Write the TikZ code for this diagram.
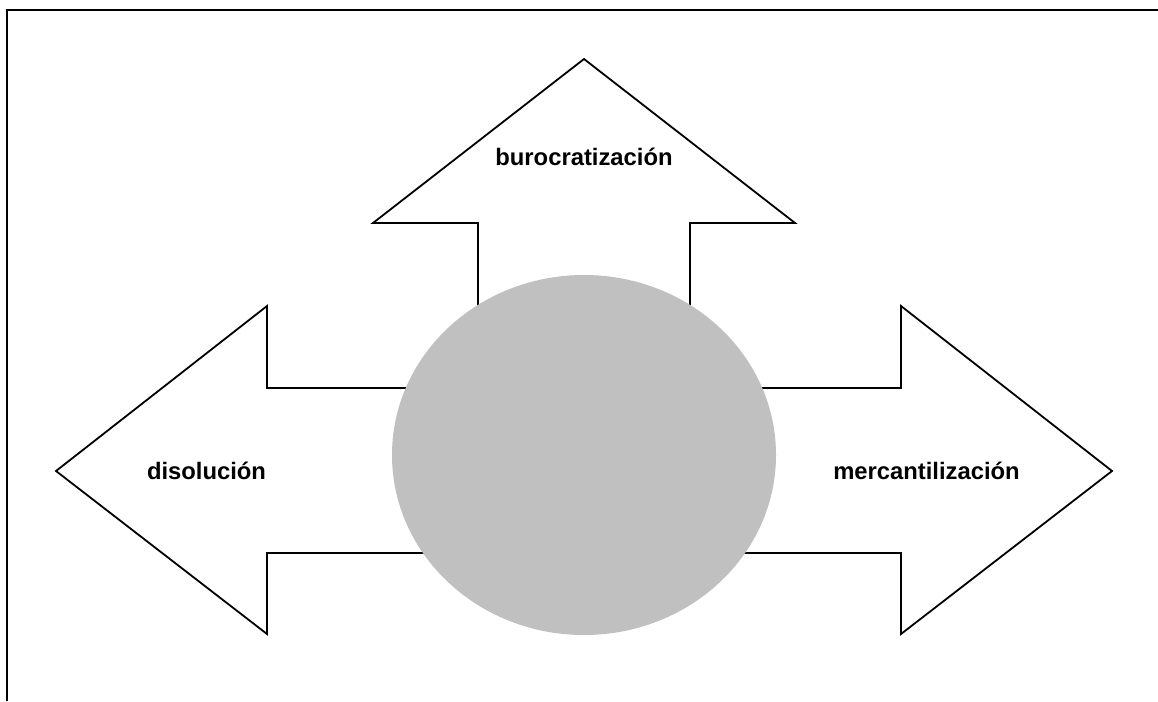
\documentclass[tikz,border=0pt]{standalone}
\usepackage{fontspec}
\setmainfont{Liberation Sans}
\begin{document}
\begin{tikzpicture}[x=1pt,y=-1pt,
  arrowshape/.style={draw=black,fill=white,line width=1.8pt,line join=miter},
  lbl/.style={font=\fontsize{23.8}{28}\selectfont\bfseries,inner sep=0pt},
  frameline/.style={draw=black,line width=2.6pt}]
\useasboundingbox (0,0) rectangle (1158,701);
% frame (top and left only)
\draw[frameline] (7,701) -- (7,10) -- (1158,10);
% up arrow
\draw[arrowshape] (478,455) -- (478,223) -- (373,223) -- (584,59) -- (795,223) -- (690,223) -- (690,455) -- cycle;
% left arrow
\draw[arrowshape] (584,388) -- (267,388) -- (267,306) -- (56,471) -- (267,634) -- (267,553) -- (584,553) -- cycle;
% right arrow
\draw[arrowshape] (584,388) -- (901,388) -- (901,306) -- (1112,471) -- (901,634) -- (901,553) -- (584,553) -- cycle;
% central circle
\fill[fill={rgb,255:red,192;green,192;blue,192}] (584,455) ellipse [x radius=192, y radius=180];
% labels
\node[lbl] (buro) at (584,157) {burocratización};
\node[lbl] (diso) at (206.5,471) {disolución};
\node[lbl] (merc) at (926.5,471) {mercantilización};
\end{tikzpicture}
\end{document}
